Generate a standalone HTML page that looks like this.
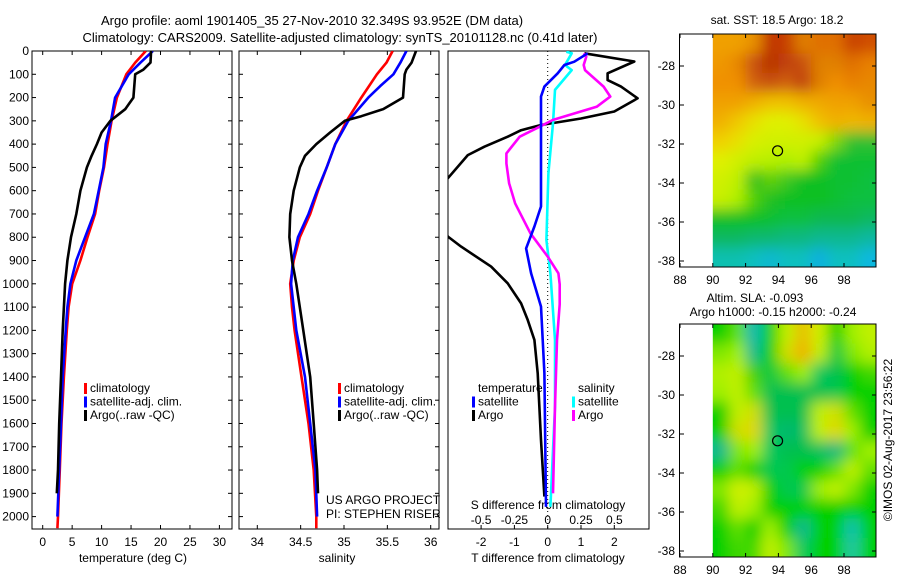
<!DOCTYPE html>
<html><head><meta charset="utf-8">
<style>
body{margin:0;background:#fff;}
svg{display:block;font-family:"Liberation Sans",sans-serif;}
text{font-size:12px;fill:#000;}
</style></head>
<body>
<svg id="chart" width="900" height="580" viewBox="0 0 900 580" xmlns="http://www.w3.org/2000/svg">
<rect width="900" height="580" fill="#fff"/>
<text x="312" y="25" text-anchor="middle" style="font-size:13px">Argo profile: aoml 1901405_35 27-Nov-2010 32.349S 93.952E (DM data)</text>
<text x="340" y="42" text-anchor="middle" style="font-size:13px">Climatology: CARS2009. Satellite-adjusted climatology: synTS_20101128.nc (0.41d later)</text>
<g id="g"></g>
</svg>
<script>
// ---- data ----
const tempClimDepth=[0,50,100,200,300,400,500,600,700,800,900,1000,1100,1200,1400,1600,1800,2000,2050];
const tempClim=[17.5,15.7,14.2,12.6,11.7,11.0,10.4,9.6,8.9,7.6,6.4,5.0,4.4,4.1,3.6,3.2,2.9,2.6,2.5];
const tempSatDepth=[0,50,100,200,300,400,500,600,700,800,900,1000,1100,1200,1400,1600,1800,2000];
const tempSat=[18.7,16.6,14.6,12.3,11.6,10.7,10.3,9.5,8.7,7.2,5.7,4.7,4.2,3.9,3.4,3.1,2.8,2.5];
const tempArgoDepth=[0,50,80,100,200,250,300,350,400,450,500,600,700,800,900,1000,1200,1400,1600,1800,1900];
const tempArgo=[18.4,18.3,17.1,15.7,15.4,14.0,11.5,10.0,9.2,8.3,7.5,6.4,5.7,4.8,4.2,3.8,3.4,3.1,2.8,2.6,2.4];
const salClimDepth=[0,50,100,200,300,400,500,600,700,800,900,1000,1100,1200,1400,1600,1800,2000,2050];
const salClim=[35.56,35.49,35.38,35.2,35.03,34.9,34.8,34.7,34.61,34.49,34.42,34.38,34.4,34.43,34.51,34.59,34.65,34.68,34.68];
const salSatDepth=[0,50,100,150,200,300,400,500,600,700,800,900,1000,1200,1400,1600,1800,2000];
const salSat=[35.72,35.65,35.57,35.42,35.28,35.05,34.9,34.8,34.69,34.59,34.47,34.41,34.39,34.45,34.55,34.61,34.67,34.69];
const salArgoDepth=[0,50,80,100,200,250,280,300,350,400,450,500,600,700,800,900,1000,1200,1400,1600,1800,1900];
const salArgo=[35.83,35.78,35.72,35.7,35.68,35.45,35.2,35.01,34.84,34.68,34.55,34.49,34.42,34.38,34.37,34.4,34.45,34.53,34.61,34.65,34.69,34.7];
const dTArgoDepth=[10,45,96,125,153,203,260,290,318,340,368,411,447,547,600,797,840,926,998,1084,1155,1241,1384,1671,1914];
const dTArgo=[1.1,2.6,1.8,1.8,2.2,2.7,2.0,1.0,-0.2,-0.8,-1.2,-1.9,-2.4,-3.0,-3.6,-3.0,-2.6,-1.7,-1.2,-0.8,-0.6,-0.4,-0.3,-0.2,-0.1];
const dTSatDepth=[10,46,60,96,153,196,311,668,754,848,955,1098,1384,1958];
const dTSat=[1.2,0.8,0.5,0.3,-0.1,-0.2,-0.2,-0.2,-0.4,-0.65,-0.5,-0.2,-0.1,-0.05];
const dSSatDepth=[3,10,60,82,167,311,525,812,955,1241,1527,1958];
const dSSat=[0.14,0.18,0.13,0.18,0.055,0.04,0.005,-0.01,0.02,0.055,0.055,0.02];
const dSArgoDepth=[10,24,60,82,153,196,239,296,325,368,440,483,568,654,783,883,955,1002,1088,1241,1527,1900];
const dSArgo=[0.27,0.29,0.27,0.28,0.42,0.47,0.37,0.04,-0.06,-0.21,-0.31,-0.31,-0.29,-0.245,-0.13,0,0.08,0.09,0.09,0.07,0.055,0.04];
const depthTicks=[0,100,200,300,400,500,600,700,800,900,1000,1100,1200,1300,1400,1500,1600,1700,1800,1900,2000];
const tempTicks=[0,5,10,15,20,25,30];
const salTicks=[34,34.5,35,35.5,36];
const dTTicks=[-2,-1,0,1,2];
const dSTicks=[-0.5,-0.25,0,0.25,0.5];
const lonTicks=[88,90,92,94,96,98];
const latTicks=[-28,-30,-32,-34,-36,-38];

const NS="http://www.w3.org/2000/svg";
const G=document.getElementById('g');
function mk(tag,attrs,parent){const e=document.createElementNS(NS,tag);for(const k in attrs)e.setAttribute(k,attrs[k]);(parent||G).appendChild(e);return e;}
function txt(s,x,y,anchor,parent,size){const t=mk('text',{x:x,y:y,'text-anchor':anchor||'middle'},parent);if(size)t.style.fontSize=size+'px';t.textContent=s;return t;}

const TOP=51,BOT=529;
const yD=d=>51+d*0.2328;
const xT=t=>42.7+t*5.89;
const xS=s=>257.3+(s-34)*86.7;
const xDT=v=>547.7+v*33.3;
const xDS=v=>547.7+v*133.2;

function frame(x0,x1,name){
  const r=mk('rect',{x:x0,y:TOP,width:x1-x0,height:BOT-TOP,fill:'none',stroke:'#000','stroke-width':1});
  
  
}
function series(xs,ds,xf,color,name,clip){
  const p=mk('polyline',{points:xs.map((v,i)=>xf(v).toFixed(1)+','+yD(ds[i]).toFixed(1)).join(' '),fill:'none',stroke:color,'stroke-width':2.6,'stroke-linejoin':'round'});
  if(clip)p.setAttribute('clip-path','url(#'+clip+')');
  
  
}
const defs=mk('defs',{});
[['c1',32,232],['c2',239,439],['c3',448,649]].forEach(c=>{const cp=mk('clipPath',{id:c[0]},defs);mk('rect',{x:c[1],y:TOP,width:c[2]-c[1],height:BOT-TOP},cp);});

frame(32,232,'temperature-panel-frame');
frame(239,439,'salinity-panel-frame');
frame(448,649,'difference-panel-frame');
depthTicks.forEach(d=>{
  const y=yD(d);
  const t=txt(String(d),29,y+4,'end');
  
  
  [[32,1],[232,-1],[239,1],[439,-1]].forEach(a=>mk('line',{x1:a[0],x2:a[0]+a[1]*4,y1:y,y2:y,stroke:'#000'}));
});
tempTicks.forEach(v=>{const x=xT(v);mk('line',{x1:x,x2:x,y1:BOT,y2:BOT-4,stroke:'#000'});mk('line',{x1:x,x2:x,y1:TOP,y2:TOP+4,stroke:'#000'});
  const t=txt(String(v),x,546);});
salTicks.forEach(v=>{const x=xS(v);mk('line',{x1:x,x2:x,y1:BOT,y2:BOT-4,stroke:'#000'});mk('line',{x1:x,x2:x,y1:TOP,y2:TOP+4,stroke:'#000'});
  const t=txt(String(v),x,546);});
dTTicks.forEach(v=>{const x=xDT(v);mk('line',{x1:x,x2:x,y1:BOT,y2:BOT-4,stroke:'#000'});
  const t=txt(String(v),x,546);});
dSTicks.forEach(v=>{const x=xDS(v);
  const t=txt(String(v),x,524);});
let t;
t=txt('temperature (deg C)',133,562);
t=txt('salinity',337,562);
t=txt('T difference from climatology',548,562);
t=txt('S difference from climatology',548,509);
mk('line',{x1:547.7,x2:547.7,y1:TOP,y2:BOT,stroke:'#000','stroke-dasharray':'1,3'});

series(tempClim,tempClimDepth,xT,'#ff0000','temp-climatology-line','c1');
series(tempSat,tempSatDepth,xT,'#0000ff','temp-satellite-line','c1');
series(tempArgo,tempArgoDepth,xT,'#000000','temp-argo-line','c1');
series(salClim,salClimDepth,xS,'#ff0000','sal-climatology-line','c2');
series(salSat,salSatDepth,xS,'#0000ff','sal-satellite-line','c2');
series(salArgo,salArgoDepth,xS,'#000000','sal-argo-line','c2');
series(dTArgo,dTArgoDepth,xDT,'#000000','t-diff-argo-line','c3');
series(dSSat,dSSatDepth,xDS,'#00ffff','s-diff-satellite-line','c3');
series(dSArgo,dSArgoDepth,xDS,'#ff00ff','s-diff-argo-line','c3');
series(dTSat,dTSatDepth,xDT,'#0000ff','t-diff-satellite-line','c3');

function legend(x,y,items,name){
  const g=mk('g',{});
  
  
  items.forEach((it,i)=>{
    if(it[0])mk('rect',{x:x,y:y+i*13.5-9,width:3,height:11,fill:it[0]},g);
    txt(it[1],x+6,y+i*13.5,'start',g);
  });
}
legend(84,392,[['#ff0000','climatology'],['#0000ff','satellite-adj. clim.'],['#000000','Argo(..raw -QC)']],'temperature-legend');
legend(338,392,[['#ff0000','climatology'],['#0000ff','satellite-adj. clim.'],['#000000','Argo(..raw -QC)']],'salinity-legend');
legend(472,392,[[null,'temperature'],['#0000ff','satellite'],['#000000','Argo']],'t-diff-legend');
legend(572,392,[[null,'salinity'],['#00ffff','satellite'],['#ff00ff','Argo']],'s-diff-legend');
t=txt('US ARGO PROJECT',326,504,'start');
t=txt('PI: STEPHEN RISER',326,518,'start');

// ---- maps ----
const sstGrid=[
['#f0a000','#f0a000','#e89000','#c03000','#c84000','#e08000','#e07000','#e07000','#c84000','#d05000'],
['#f09800','#e88800','#c85010','#b83000','#c04010','#c85010','#e08000','#e08000','#e07000','#e88000'],
['#f09000','#f09000','#d06010','#c85010','#d06010','#c04010','#e08000','#f09000','#e88000','#e88800'],
['#f0a000','#f0a000','#f0b000','#f0c000','#f0c000','#f0b000','#f0a800','#f0a000','#f0a000','#e89000'],
['#f0b000','#f0c800','#e8e000','#e0f000','#e0f000','#e8e000','#f0c000','#f0b000','#f0b800','#f0b000'],
['#f0d000','#e8e000','#d8f000','#d0f000','#d0f000','#d0f000','#c8f000','#80d800','#30c030','#30c030'],
['#e0f000','#d0f000','#c0f000','#b8f000','#b0f000','#c0f000','#50d000','#10c030','#10c030','#10c030'],
['#d0f000','#c0f000','#30c020','#60d000','#40c820','#10c020','#10c020','#10c030','#10c030','#10c040'],
['#c8f000','#b0f000','#50d000','#20c020','#10c020','#10c020','#10c020','#10c030','#10c040','#10c040'],
['#10c020','#10c020','#10c020','#10c030','#10c040','#10c040','#10b850','#10b850','#10b850','#10b860'],
['#10b860','#10b860','#10b870','#10b870','#10b880','#10b880','#10b890','#10b890','#10b890','#10b8a0'],
['#10c0b0','#10c0b0','#10c0c0','#10b8d0','#10c0c0','#10c0c0','#10b0e0','#10c0c0','#10c0c0','#10b8e0']];
const slaGrid=[
['#00d000','#60e000','#10b8b0','#00d000','#c0f000','#e8c000','#d0f000','#00d000','#a0f000','#c0f000'],
['#80e800','#a0f000','#10b890','#00d000','#d0e000','#f0b000','#c0f000','#00c840','#80e800','#b0f000'],
['#b0f000','#c0f000','#40d000','#00c840','#60e000','#a0f000','#00c860','#00c050','#00d000','#40d800'],
['#a0f000','#c0f000','#60e000','#00c050','#00c050','#00c050','#00c050','#00c850','#00d000','#00d000'],
['#00d000','#c0f000','#d0e000','#00c050','#00c050','#00c050','#c0f000','#d0e000','#60e000','#00d000'],
['#00d000','#d0e000','#e0d800','#00c860','#00b870','#00c060','#c0f000','#e0d800','#a0f000','#00d000'],
['#10b890','#80e800','#a0f000','#00c860','#00c050','#00c050','#00c060','#00b880','#60e000','#a0f000'],
['#00d000','#60e000','#00d000','#00c850','#00c850','#00d000','#00d000','#60e000','#c0f000','#60e000'],
['#80e800','#d0f000','#c0f000','#00d000','#00c850','#00c850','#a0f000','#c0f000','#80e800','#00d000'],
['#40d800','#c0f000','#a0f000','#00d000','#00d000','#00d000','#00d000','#00d000','#00d000','#00d000'],
['#00d000','#60e000','#00d000','#a0f000','#00d000','#10b890','#00d000','#00d000','#10c0b0','#00d000'],
['#00d000','#40d800','#40d800','#c0f000','#80e800','#00c860','#00d000','#00d000','#20c8a0','#00d000']];
const mapX=lon=>680+(lon-88)*16.4;
function map(y0,grid,name,cid){
  const latY=lat=>y0+32+(-28-lat)*19.5;
  const g=mk('g',{});
  
  
  const f=mk('filter',{id:'b'+cid,x:'-20%',y:'-20%',width:'140%',height:'140%'},defs);
  mk('feGaussianBlur',{stdDeviation:7},f);
  const cp=mk('clipPath',{id:cid},defs);
  const dx0=mapX(90),dx1=876,dy0=y0,dy1=y0+233;
  mk('rect',{x:dx0,y:dy0,width:dx1-dx0,height:dy1-dy0},cp);
  const cg=mk('g',{'clip-path':'url(#'+cid+')'},g);
  const bg=mk('g',{filter:'url(#b'+cid+')'},cg);
  const cw=16.4,ch=19.45;
  grid.forEach((row,r)=>row.forEach((c,ci)=>{
    let x=dx0+ci*cw,y=dy0+r*ch,w=cw+0.5,h=ch+0.5;
    if(ci==0){x-=25;w+=25;} if(ci==row.length-1)w+=25;
    if(r==0){y-=25;h+=25;} if(r==grid.length-1)h+=25;
    mk('rect',{x:x,y:y,width:w,height:h,fill:c},bg);
  }));
  mk('rect',{x:679.5,y:y0,width:196.5,height:233,fill:'none',stroke:'#000'},g);
  lonTicks.forEach(l=>{const x=mapX(l);mk('line',{x1:x,x2:x,y1:y0+233,y2:y0+229,stroke:'#000'},g);mk('line',{x1:x,x2:x,y1:y0,y2:y0+4,stroke:'#000'},g);txt(String(l),x,y0+250,'middle',g);});
  latTicks.forEach(l=>{const y=latY(l);mk('line',{x1:679.5,x2:684,y1:y,y2:y,stroke:'#000'},g);mk('line',{x1:876,x2:872,y1:y,y2:y,stroke:'#000'},g);txt(String(l),675,y+4,'end',g);});
  mk('circle',{cx:mapX(93.95),cy:latY(-32.35),r:5,fill:'none',stroke:'#000','stroke-width':1.2},g);
}
map(34,sstGrid,'sst-map','m1');
map(324,slaGrid,'sla-map','m2');
t=txt('sat. SST: 18.5 Argo: 18.2',777,24);
t=txt('Altim. SLA: -0.093',755,302);
t=txt('Argo h1000: -0.15 h2000: -0.24',773,316);
t=txt('©IMOS 02-Aug-2017 23:56:22',0,0);t.setAttribute('transform','translate(892,440) rotate(-90)');
</script>
</body></html>
